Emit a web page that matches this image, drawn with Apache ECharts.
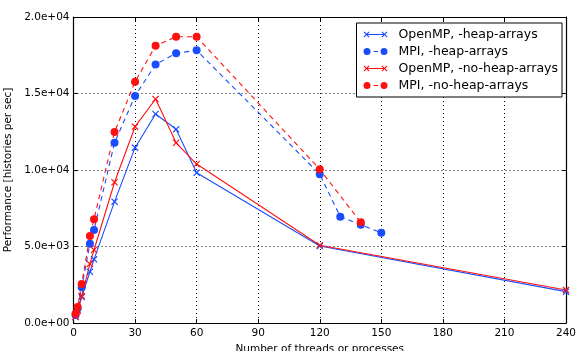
<!DOCTYPE html>
<html>
<head>
<meta charset="utf-8">
<script src="https://cdn.jsdelivr.net/npm/echarts@6/dist/echarts.min.js"></script>
<style>
  html, body { margin: 0; padding: 0; background: #fff; }
  #chart { width: 577px; height: 351px; }
</style>
</head>
<body>
<div id="chart"></div>
<script>
// thread / process counts
const ompThreads = [1, 2, 4, 8, 10, 20, 30, 40, 50, 60, 120, 240];
const mpiHeapProcs = [1, 2, 4, 8, 10, 20, 30, 40, 50, 60, 120, 130, 140, 150];
const mpiNoHeapProcs = [1, 2, 4, 8, 10, 20, 30, 40, 50, 60, 120, 140];

// performance, histories per sec
const ompHeap = [400, 800, 1700, 3350, 4160, 7930, 11460, 13660, 12660, 9820, 5030, 2050];
const mpiHeap = [520, 950, 2330, 5180, 6080, 11780, 14840, 16900, 17630, 17820, 9720, 6950, 6420, 5900];
const ompNoHeap = [410, 820, 1760, 3860, 4770, 9200, 12830, 14640, 11780, 10390, 5080, 2160];
const mpiNoHeap = [600, 1050, 2550, 5690, 6780, 12480, 15770, 18120, 18710, 18710, 10050, 6580];

const seriesNames = [
  "OpenMP, -heap-arrays",
  "MPI, -heap-arrays",
  "OpenMP, -no-heap-arrays",
  "MPI, -no-heap-arrays",
];

const BLUE = "#1a4cff";
const RED = "#ff1010";
const FONT = "DejaVu Sans";

// x shaped marker (matplotlib 'x')
const crossPath =
  "path://M0,1.2L1.2,0L5,3.8L8.8,0L10,1.2L6.2,5L10,8.8L8.8,10L5,6.2L1.2,10L0,8.8L3.8,5Z";

// legend glyphs: marker at both ends with a line between
function xAt(c) {
  const s = 3, w = 0.8, y = 4;
  const p = [[-s, -s + w], [-s + w, -s], [0, -w], [s - w, -s], [s, -s + w], [w, 0],
             [s, s - w], [s - w, s], [0, w], [-s + w, s], [-s, s - w], [-w, 0]];
  return "M" + p.map(([a, b]) => (c + a) + "," + (y + b)).join("L") + "Z";
}
function dotAt(c) {
  const r = 3.5;
  return `M${c - r},4A${r},${r} 0 1,1 ${c + r},4A${r},${r} 0 1,1 ${c - r},4Z`;
}
const legendCross = "path://" + xAt(3) + "M3,3.5L21,3.5L21,4.5L3,4.5Z" + xAt(21);
const legendDot = "path://" + dotAt(3.5) + "M10,3.5L14.5,3.5L14.5,4.5L10,4.5Z" + dotAt(20.5);

function sci(v) {
  const [m, e] = v.toExponential(1).split("e");
  const d = String(Math.abs(+e)).padStart(2, "0");
  return m + "e" + (e[0] === "-" ? "-" : "+") + d;
}

function pairs(xs, ys) {
  return xs.map((x, i) => [x, ys[i]]);
}

function makeSeries(name, data, color, dashed, symbol) {
  return {
    name: name,
    type: "line",
    data: data,
    color: color,
    symbol: symbol,
    symbolSize: symbol === "circle" ? 8 : 7,
    showAllSymbol: true,
    lineStyle: { color: color, width: 1.1, type: dashed ? [5, 4] : "solid" },
    itemStyle: { color: color, borderWidth: 0 },
    emphasis: { disabled: true },
    z: 3,
  };
}

const chart = echarts.init(document.getElementById("chart"), null, { renderer: "canvas" });

const tickStyle = { show: true, inside: true, length: 4, lineStyle: { color: "#000", width: 1 } };
const axisLineStyle = { show: true, onZero: false, lineStyle: { color: "#000", width: 1.2 } };
const gridLine = { show: true, lineStyle: { color: "#000", width: 1, type: [1, 3] } };

chart.setOption({
  animation: false,
  backgroundColor: "#fff",
  textStyle: { fontFamily: FONT },
  grid: { left: 73.5, right: 11, top: 17, bottom: 28, containLabel: false, outerBoundsMode: "none" },
  legend: {
    orient: "vertical",
    right: 15,
    top: 23,
    padding: [5, 4, 5, 7],
    itemWidth: 24,
    itemHeight: 8,
    itemGap: 4,
    backgroundColor: "#fff",
    borderColor: "#000",
    borderWidth: 1,
    textStyle: { fontFamily: FONT, fontSize: 12.5, color: "#000", padding: [0, 0, 0, 6] },
    data: [
      { name: seriesNames[0], icon: legendCross },
      { name: seriesNames[1], icon: legendDot },
      { name: seriesNames[2], icon: legendCross },
      { name: seriesNames[3], icon: legendDot },
    ],
  },
  xAxis: [
    {
      type: "value",
      min: 0,
      max: 240,
      interval: 30,
      name: "Number of threads or processes",
      nameLocation: "middle",
      nameGap: 17,
      nameTextStyle: { fontFamily: FONT, fontSize: 10.5, color: "#000" },
      axisLine: axisLineStyle,
      axisTick: tickStyle,
      axisLabel: { fontFamily: FONT, fontSize: 10.5, color: "#000", margin: 5 },
      splitLine: gridLine,
    },
    {
      type: "value",
      position: "top",
      min: 0,
      max: 240,
      interval: 30,
      axisLine: axisLineStyle,
      axisTick: tickStyle,
      axisLabel: { show: false },
      splitLine: { show: false },
    },
  ],
  yAxis: [
    {
      type: "value",
      min: 0,
      max: 20000,
      interval: 5000,
      name: "Performance [histories per sec]",
      nameLocation: "middle",
      nameGap: 50,
      nameTextStyle: { fontFamily: FONT, fontSize: 10.5, color: "#000" },
      axisLine: axisLineStyle,
      axisTick: tickStyle,
      axisLabel: { fontFamily: FONT, fontSize: 10.5, color: "#000", margin: 4, formatter: sci },
      splitLine: gridLine,
    },
    {
      type: "value",
      position: "right",
      min: 0,
      max: 20000,
      interval: 5000,
      axisLine: axisLineStyle,
      axisTick: tickStyle,
      axisLabel: { show: false },
      splitLine: { show: false },
    },
  ],
  series: [
    makeSeries(seriesNames[0], pairs(ompThreads, ompHeap), BLUE, false, crossPath),
    makeSeries(seriesNames[1], pairs(mpiHeapProcs, mpiHeap), BLUE, true, "circle"),
    makeSeries(seriesNames[2], pairs(ompThreads, ompNoHeap), RED, false, crossPath),
    makeSeries(seriesNames[3], pairs(mpiNoHeapProcs, mpiNoHeap), RED, true, "circle"),
  ],
});
</script>
</body>
</html>
